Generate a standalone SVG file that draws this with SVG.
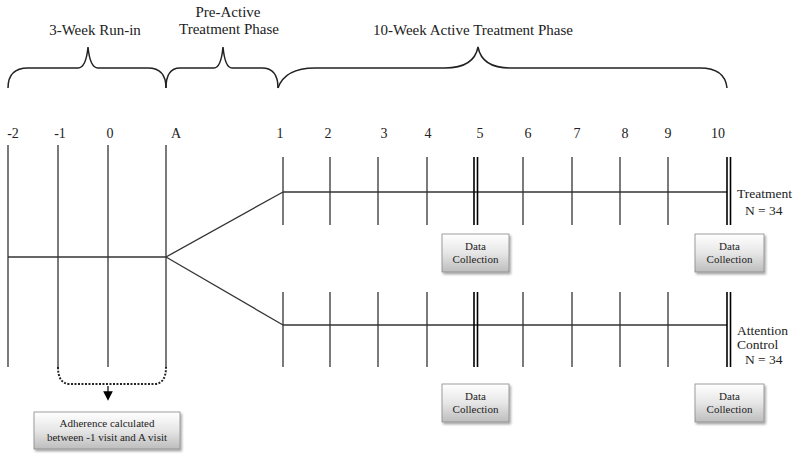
<svg xmlns="http://www.w3.org/2000/svg" width="800" height="459" viewBox="0 0 800 459">
<defs>
<linearGradient id="g" x1="0" y1="0" x2="0" y2="1">
<stop offset="0" stop-color="#ffffff"/>
<stop offset="0.5" stop-color="#e6e6e6"/>
<stop offset="1" stop-color="#bdbdbd"/>
</linearGradient>
<filter id="sh" x="-10%" y="-10%" width="130%" height="140%">
<feDropShadow dx="1.5" dy="2" stdDeviation="1" flood-color="#000" flood-opacity="0.35"/>
</filter>
<marker id="arr" markerWidth="8" markerHeight="8" refX="4" refY="4" orient="auto">
<path d="M0,0 L8,4 L0,8 z" fill="#000"/>
</marker>
</defs>
<style>
text{font-family:"Liberation Serif","Times New Roman",serif;fill:#222}
.lbl{font-size:15px}
.num{font-size:14px;text-anchor:middle}
.sm{font-size:11px;text-anchor:middle}
.side{font-size:13.5px}
.ln{stroke:#333;stroke-width:1.3;fill:none}
.br{stroke:#222;stroke-width:1.5;fill:none}
.box{fill:url(#g);stroke:#888;stroke-width:0.8;filter:url(#sh)}
.dbl{stroke:#000;stroke-width:1.6}
</style>
<rect width="800" height="459" fill="#fff"/>
<g id="phases">
<text class="lbl" x="95" y="35" text-anchor="middle">3-Week Run-in</text>
<text class="lbl" x="228" y="17" text-anchor="middle">Pre-Active</text>
<text class="lbl" x="229" y="34" text-anchor="middle">Treatment Phase</text>
<text class="lbl" x="473" y="35" text-anchor="middle">10-Week Active Treatment Phase</text>
<path class="br" d="M8,88 Q8,68 28,68 L78,68 Q86,68 88,47 Q90,68 98,68 L148,68 Q166,68 166,88"/>
<path class="br" d="M166,88 Q166,68 180,68 L214,68 Q221,68 223,47 Q225,68 232,68 L262,68 Q278,68 278,88"/>
<path class="br" d="M278,88 Q285,68 315,68 L445,68 Q474,68 478,47 Q482,68 510,68 L700,68 Q725,68 727,88"/>
</g>
<g id="numbers">
<text class="num" x="13" y="138">-2</text>
<text class="num" x="60" y="138">-1</text>
<text class="num" x="110" y="138">0</text>
<text class="num" x="176" y="138">A</text>
<text class="num" x="280" y="138">1</text>
<text class="num" x="328" y="138">2</text>
<text class="num" x="384" y="138">3</text>
<text class="num" x="428" y="138">4</text>
<text class="num" x="480" y="138">5</text>
<text class="num" x="528" y="138">6</text>
<text class="num" x="577" y="138">7</text>
<text class="num" x="625" y="138">8</text>
<text class="num" x="668" y="138">9</text>
<text class="num" x="718" y="138">10</text>
</g>
<g id="runin">
<line class="ln" x1="8" y1="145" x2="8" y2="367"/>
<line class="ln" x1="58" y1="145" x2="58" y2="367"/>
<line class="ln" x1="108" y1="145" x2="108" y2="367"/>
<line class="ln" x1="166" y1="145" x2="166" y2="367"/>
<line class="ln" x1="8" y1="257" x2="166" y2="257"/>
</g>
<g id="connectors">
<line class="ln" x1="166" y1="257" x2="283" y2="192"/>
<line class="ln" x1="166" y1="257" x2="283" y2="325"/>
<path d="M58,367 Q58,384 70,384 L154,384 Q166,384 166,367" fill="none" stroke="#222" stroke-width="2" stroke-dasharray="2,1.5"/>
<line x1="108" y1="386" x2="108" y2="396" stroke="#000" stroke-width="1.2" marker-end="url(#arr)"/>
</g>
<g id="treatment">
<line class="ln" x1="283" y1="192" x2="727" y2="192"/>
<g class="ln">
<line x1="283" y1="157" x2="283" y2="225"/>
<line x1="330" y1="157" x2="330" y2="225"/>
<line x1="378" y1="157" x2="378" y2="225"/>
<line x1="427" y1="157" x2="427" y2="225"/>
<line x1="523" y1="157" x2="523" y2="225"/>
<line x1="572" y1="157" x2="572" y2="225"/>
<line x1="620" y1="157" x2="620" y2="225"/>
<line x1="668" y1="157" x2="668" y2="225"/>
</g>
<g class="dbl">
<line x1="474" y1="157" x2="474" y2="225"/>
<line x1="477.5" y1="157" x2="477.5" y2="225"/>
<line x1="727" y1="157" x2="727" y2="225"/>
<line x1="730.5" y1="157" x2="730.5" y2="225"/>
</g>
<text class="side" x="737" y="198">Treatment</text>
<text class="side" x="745" y="215">N = 34</text>
</g>
<g id="control">
<line class="ln" x1="283" y1="325" x2="727" y2="325"/>
<g class="ln">
<line x1="283" y1="292" x2="283" y2="367"/>
<line x1="330" y1="292" x2="330" y2="367"/>
<line x1="378" y1="292" x2="378" y2="367"/>
<line x1="427" y1="292" x2="427" y2="367"/>
<line x1="523" y1="292" x2="523" y2="367"/>
<line x1="572" y1="292" x2="572" y2="367"/>
<line x1="620" y1="292" x2="620" y2="367"/>
<line x1="668" y1="292" x2="668" y2="367"/>
</g>
<g class="dbl">
<line x1="474" y1="292" x2="474" y2="367"/>
<line x1="477.5" y1="292" x2="477.5" y2="367"/>
<line x1="727" y1="292" x2="727" y2="367"/>
<line x1="730.5" y1="292" x2="730.5" y2="367"/>
</g>
<text class="side" x="737" y="335">Attention</text>
<text class="side" x="737" y="349">Control</text>
<text class="side" x="745" y="364">N = 34</text>
</g>
<g id="dc1">
<rect class="box" x="442" y="234" width="67" height="38"/>
<text class="sm" x="475.5" y="250">Data</text>
<text class="sm" x="475.5" y="263">Collection</text>
</g>
<g id="dc2">
<rect class="box" x="695" y="234" width="69" height="38"/>
<text class="sm" x="729.5" y="250">Data</text>
<text class="sm" x="729.5" y="263">Collection</text>
</g>
<g id="dc3">
<rect class="box" x="442" y="384" width="67" height="38"/>
<text class="sm" x="475.5" y="400">Data</text>
<text class="sm" x="475.5" y="413">Collection</text>
</g>
<g id="dc4">
<rect class="box" x="695" y="384" width="69" height="38"/>
<text class="sm" x="729.5" y="400">Data</text>
<text class="sm" x="729.5" y="413">Collection</text>
</g>
<g id="adherence">
<rect class="box" x="34" y="412" width="146" height="37"/>
<text x="107" y="427" style="font-size:11px;text-anchor:middle">Adherence calculated</text>
<text x="107" y="441" style="font-size:11px;text-anchor:middle">between -1 visit and A visit</text>
</g>
</svg>
